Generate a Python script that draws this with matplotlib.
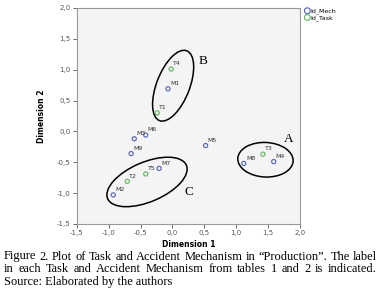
import matplotlib
matplotlib.use("Agg")
import matplotlib.pyplot as plt
from matplotlib.patches import Ellipse

# Points (Dimension 1, Dimension 2)
mech_labels = ["M1", "M2", "M3", "M4", "M5", "M6", "M7", "M8", "M9"]
mech_x = [-0.07, -0.93, -0.60, 1.59, 0.52, -0.42, -0.21, 1.12, -0.65]
mech_y = [0.69, -1.03, -0.12, -0.49, -0.23, -0.06, -0.60, -0.52, -0.36]

task_labels = ["T1", "T2", "T3", "T4", "T5"]
task_x = [-0.24, -0.71, 1.42, -0.02, -0.42]
task_y = [0.30, -0.81, -0.37, 1.01, -0.69]

# Groups drawn by the authors: name, centre, width, height, angle, letter position
group_names = ["A", "B", "C"]
group_centres = [(1.46, -0.46), (0.01, 0.74), (-0.40, -0.82)]
group_sizes = [(0.87, 0.56), (1.21, 0.52), (1.35, 0.64)]
group_angles = [-3, 69.5, 24]
group_letter_pos = [(1.83, -0.12), (0.48, 1.14), (0.26, -0.99)]

ticks = [-1.5, -1.0, -0.5, 0.0, 0.5, 1.0, 1.5, 2.0]
tick_labels = [f"{t:.1f}".replace(".", ",") for t in ticks]

caption_lines = [
    "Figure 2. Plot of Task and Accident Mechanism in \u201cProduction\u201d. The label",
    "in each Task and Accident Mechanism from tables 1 and 2 is indicated.",
    "Source: Elaborated by the authors",
]

blue = "#4f5fb8"
green = "#5cb45c"

fig = plt.figure(figsize=(3.81, 2.95), dpi=100)
ax = fig.add_axes([0.202, 0.241, 0.585, 0.732])
ax.set_facecolor("#f4f4f4")

ax.scatter(mech_x, mech_y, s=9, facecolors="none", edgecolors=blue, linewidths=0.8, label="Id_Mech", zorder=3)
ax.scatter(task_x, task_y, s=9, facecolors="none", edgecolors=green, linewidths=0.8, label="Id_Task", zorder=3)

for lab, x, y in zip(mech_labels + task_labels, mech_x + task_x, mech_y + task_y):
    ax.annotate(lab, (x, y), xytext=(1.5, 2), textcoords="offset points",
                fontsize=4.5, color="#333333", ha="left", va="bottom")

for name, c, (w, h), ang, lp in zip(group_names, group_centres, group_sizes, group_angles, group_letter_pos):
    ax.add_patch(Ellipse(c, w, h, angle=ang, fill=False, edgecolor="black", linewidth=1.1))
    ax.text(lp[0], lp[1], name, fontsize=9.5, family="Liberation Serif", ha="center", va="center")

ax.set_xlim(-1.5, 2.0)
ax.set_ylim(-1.5, 2.0)
ax.set_xticks(ticks)
ax.set_yticks(ticks)
ax.set_xticklabels(tick_labels)
ax.set_yticklabels(tick_labels)
ax.tick_params(labelsize=5, colors="#555555", length=3, width=0.6, pad=1.5)
for sp in ax.spines.values():
    sp.set_color("#999999")
    sp.set_linewidth(0.8)

ax.set_xlabel("Dimension 1", fontsize=5.5, fontweight="bold", labelpad=3)
ax.set_ylabel("Dimension 2", fontsize=5.5, fontweight="bold", labelpad=8)

ax.legend(loc="upper left", bbox_to_anchor=(1.0, 1.02), frameon=False, fontsize=4.5,
          handletextpad=0.0, borderaxespad=0.3, labelspacing=0.1, markerscale=1.4,
          handlelength=1.0)

# Justified caption
fig.canvas.draw()
renderer = fig.canvas.get_renderer()
left, right = 4 / 381, 377 / 381
line_y = [1 - 256.5 / 295, 1 - 269.5 / 295, 1 - 282.5 / 295]
cap_size = 8.9
for i, (line, yy) in enumerate(zip(caption_lines, line_y)):
    words = line.split(" ")
    if i == len(caption_lines) - 1:
        fig.text(left, yy, line, fontsize=cap_size, family="Liberation Serif", va="center", ha="left")
        continue
    texts = [fig.text(0, yy, w, fontsize=cap_size, family="Liberation Serif", va="center", ha="left") for w in words]
    widths = [t.get_window_extent(renderer).width / fig.bbox.width for t in texts]
    gap = (right - left - sum(widths)) / (len(words) - 1)
    x = left
    for t, w in zip(texts, widths):
        t.set_x(x)
        x += w + gap

fig.savefig("out.png", dpi=100)
